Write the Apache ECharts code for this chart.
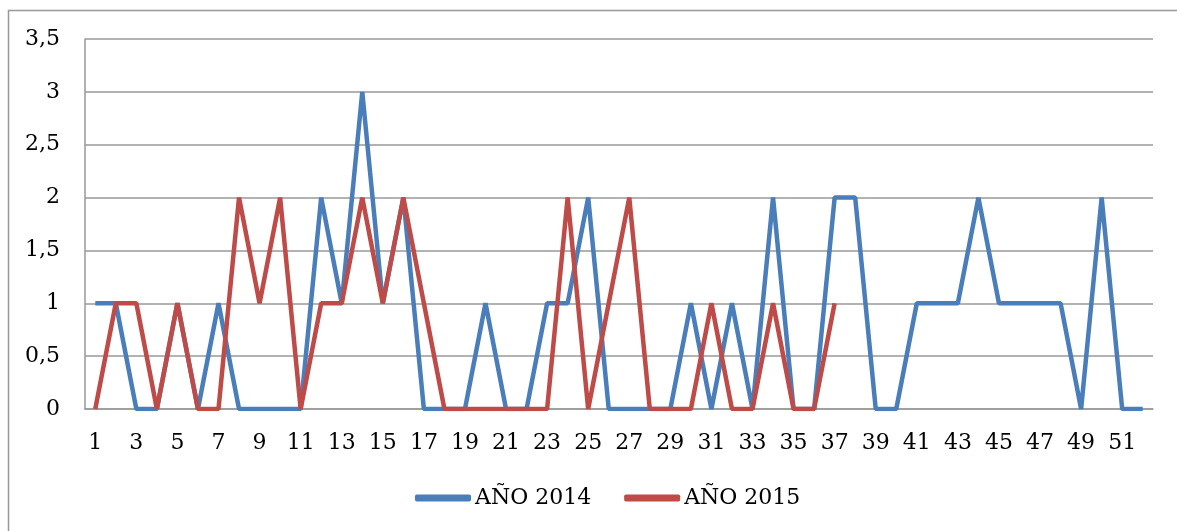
<!DOCTYPE html>
<html>
<head>
<meta charset="utf-8">
<script src="https://cdn.jsdelivr.net/npm/echarts@6/dist/echarts.min.js"></script>
<style>
html,body{margin:0;padding:0;background:#fff;}
#chart{width:1177px;height:531px;}
</style>
</head>
<body>
<div id="chart"></div>
<script>
const categories = Array.from({length: 52}, (_, i) => String(i + 1));
const seriesNames = ['AÑO 2014', 'AÑO 2015'];
const values2014 = [1,1,0,0,1,0,1,0,0,0,0,2,1,3,1,2,0,0,0,1,0,0,1,1,2,0,0,0,0,1,0,1,0,2,0,0,2,2,0,0,1,1,1,2,1,1,1,1,0,2,0,0];
const values2015 = [0,1,1,0,1,0,0,2,1,2,0,1,1,2,1,2,1,0,0,0,0,0,0,2,0,1,2,0,0,0,1,0,0,1,0,0,1];
const yTicks = {min: 0, max: 3.5, interval: 0.5};

const FONT = 'DejaVu Serif';
const chart = echarts.init(document.getElementById('chart'), null, {renderer: 'canvas'});
chart.setOption({
  animation: false,
  backgroundColor: '#fff',
  graphic: [{
    type: 'rect',
    shape: {x: 8.5, y: 10.5, width: 1180, height: 540},
    style: {fill: 'none', stroke: '#999', lineWidth: 1.5},
    silent: true
  }],
  grid: {left: 85, right: 24, top: 39, bottom: 122, containLabel: false},
  legend: {
    bottom: 17,
    left: 410,
    itemWidth: 56,
    itemHeight: 7,
    itemGap: 33,
    icon: 'roundRect',
    textStyle: {fontFamily: FONT, fontSize: 22, color: '#000', padding: [0, 0, 0, -1]},
    data: seriesNames
  },
  xAxis: {
    type: 'category',
    data: categories,
    boundaryGap: true,
    axisLine: {lineStyle: {color: '#999', width: 1.5}},
    axisTick: {show: false},
    axisLabel: {interval: 1, fontFamily: FONT, fontSize: 22, color: '#000', margin: 23}
  },
  yAxis: {
    type: 'value',
    min: yTicks.min, max: yTicks.max, interval: yTicks.interval,
    axisLine: {show: true, lineStyle: {color: '#999', width: 1.5}},
    axisTick: {show: false},
    splitLine: {lineStyle: {color: '#999', width: 1.5}},
    axisLabel: {
      fontFamily: FONT, fontSize: 22, color: '#000', margin: 25,
      formatter: v => String(v).replace('.', ',')
    }
  },
  series: [
    {name: seriesNames[0], type: 'line', data: values2014, showSymbol: false, symbol: 'none',
     lineStyle: {color: '#4A7EBB', width: 4.5}, itemStyle: {color: '#4A7EBB'}},
    {name: seriesNames[1], type: 'line', data: values2015, showSymbol: false, symbol: 'none',
     lineStyle: {color: '#BE4B48', width: 4.5}, itemStyle: {color: '#BE4B48'}}
  ]
});
</script>
</body>
</html>
